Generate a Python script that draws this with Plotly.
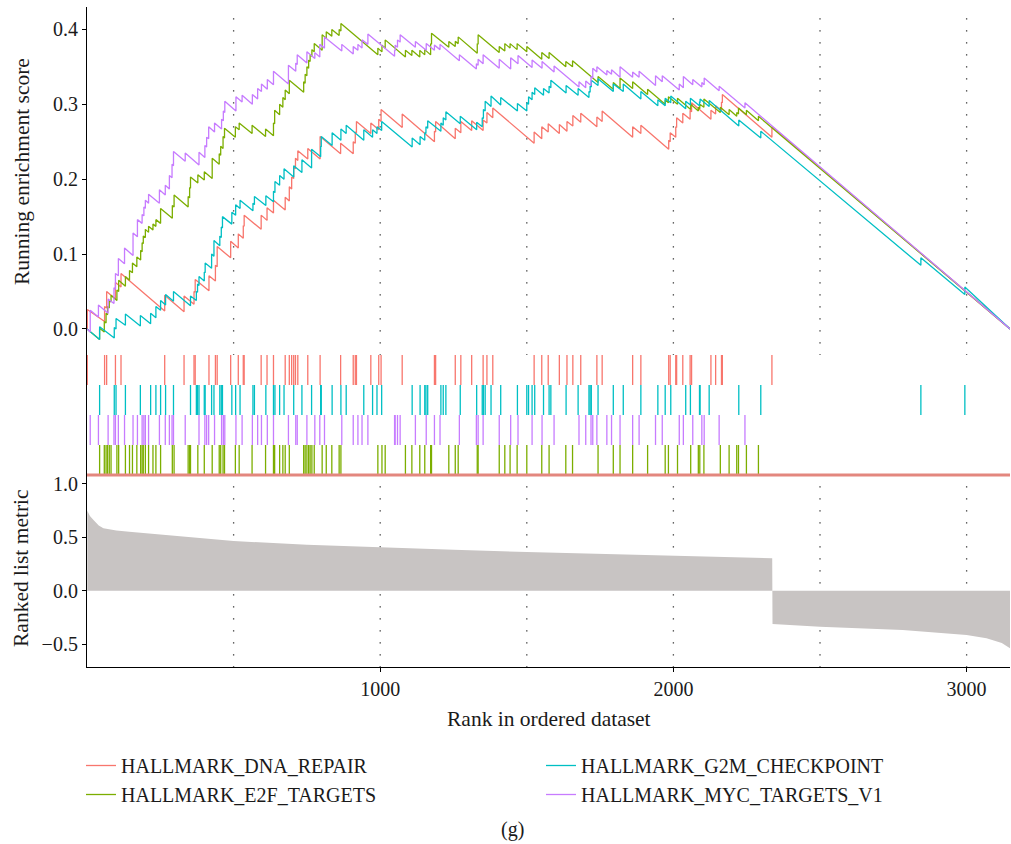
import plotly.graph_objects as go

# ---------------------------------------------------------------------------
# Data
# ---------------------------------------------------------------------------
N_GENES = 3148

# Running enrichment score: each hit is (rank, score before hit, score after hit)
dna_repair_steps = [
    (1, 0.000, 0.026), (60, 0.010, 0.030), (67, 0.028, 0.050), (97, 0.040, 0.062),
    (116, 0.056, 0.074), (265, 0.024, 0.045), (331, 0.023, 0.044), (365, 0.033, 0.050),
    (369, 0.049, 0.066), (416, 0.051, 0.071), (438, 0.064, 0.085), (444, 0.083, 0.110),
    (490, 0.095, 0.117), (516, 0.108, 0.127), (533, 0.121, 0.138), (536, 0.137, 0.152),
    (594, 0.133, 0.152), (614, 0.145, 0.162), (636, 0.155, 0.172), (676, 0.159, 0.176),
    (690, 0.171, 0.190), (698, 0.187, 0.203), (705, 0.201, 0.216), (711, 0.214, 0.228),
    (719, 0.225, 0.238), (753, 0.227, 0.241), (795, 0.227, 0.257), (865, 0.234, 0.248),
    (908, 0.234, 0.250), (915, 0.248, 0.263), (919, 0.262, 0.277), (968, 0.261, 0.275),
    (995, 0.266, 0.280), (1003, 0.277, 0.293), (1075, 0.269, 0.287), (1185, 0.250, 0.264),
    (1189, 0.263, 0.277), (1256, 0.254, 0.268), (1275, 0.262, 0.277), (1312, 0.265, 0.278),
    (1351, 0.265, 0.279), (1364, 0.275, 0.289), (1384, 0.282, 0.295), (1525, 0.248, 0.263),
    (1551, 0.254, 0.270), (1573, 0.263, 0.274), (1611, 0.261, 0.273), (1637, 0.264, 0.277),
    (1657, 0.271, 0.285), (1684, 0.276, 0.288), (1739, 0.270, 0.283), (1757, 0.277, 0.291),
    (1861, 0.256, 0.270), (1889, 0.261, 0.272), (1984, 0.240, 0.252), (1989, 0.250, 0.262),
    (2008, 0.256, 0.270), (2011, 0.269, 0.282), (2032, 0.275, 0.288), (2057, 0.280, 0.292),
    (2062, 0.290, 0.302), (2128, 0.280, 0.292), (2144, 0.287, 0.298), (2164, 0.291, 0.303),
    (2167, 0.302, 0.313), (2336, 0.256, 0.270),
]

e2f_targets_steps = [
    (43, -0.014, 0.001), (59, -0.004, 0.010), (65, 0.008, 0.021), (70, 0.019, 0.030),
    (76, 0.028, 0.038), (82, 0.036, 0.045), (102, 0.038, 0.052), (108, 0.050, 0.065),
    (131, 0.057, 0.070), (145, 0.065, 0.078), (155, 0.075, 0.088), (170, 0.083, 0.096),
    (183, 0.092, 0.105), (188, 0.103, 0.115), (192, 0.114, 0.124), (199, 0.122, 0.133),
    (210, 0.129, 0.137), (225, 0.132, 0.140), (235, 0.137, 0.146), (251, 0.141, 0.161),
    (291, 0.148, 0.165), (297, 0.163, 0.179), (345, 0.163, 0.177), (350, 0.175, 0.189),
    (353, 0.188, 0.203), (378, 0.195, 0.206), (400, 0.199, 0.210), (427, 0.201, 0.228),
    (451, 0.220, 0.234), (456, 0.232, 0.244), (464, 0.241, 0.257), (469, 0.255, 0.268),
    (506, 0.256, 0.270), (519, 0.266, 0.275), (563, 0.261, 0.272), (609, 0.257, 0.267),
    (636, 0.258, 0.275), (640, 0.274, 0.292), (657, 0.286, 0.300), (668, 0.296, 0.309),
    (676, 0.306, 0.319), (690, 0.314, 0.332), (739, 0.316, 0.330), (744, 0.328, 0.340),
    (750, 0.338, 0.350), (756, 0.348, 0.359), (761, 0.357, 0.366), (767, 0.364, 0.373),
    (775, 0.370, 0.381), (802, 0.372, 0.393), (816, 0.388, 0.397), (835, 0.391, 0.400),
    (860, 0.392, 0.400), (866, 0.398, 0.408), (992, 0.366, 0.375), (1006, 0.370, 0.379),
    (1017, 0.375, 0.386), (1086, 0.363, 0.372), (1108, 0.365, 0.372), (1135, 0.363, 0.372),
    (1152, 0.366, 0.373), (1172, 0.366, 0.381), (1175, 0.380, 0.395), (1234, 0.376, 0.384),
    (1256, 0.377, 0.384), (1266, 0.381, 0.390), (1331, 0.368, 0.381), (1334, 0.380, 0.393),
    (1406, 0.369, 0.377), (1425, 0.371, 0.381), (1443, 0.375, 0.381), (1467, 0.373, 0.381),
    (1500, 0.370, 0.377), (1551, 0.360, 0.369), (1576, 0.361, 0.369), (1633, 0.350, 0.357),
    (1656, 0.350, 0.358), (1743, 0.329, 0.337), (1795, 0.320, 0.329), (1818, 0.321, 0.335),
    (1861, 0.321, 0.330), (1912, 0.313, 0.320), (1972, 0.300, 0.306), (1983, 0.302, 0.310),
    (2014, 0.300, 0.308), (2059, 0.293, 0.300), (2085, 0.291, 0.296), (2090, 0.294, 0.300),
    (2104, 0.296, 0.307), (2160, 0.289, 0.296), (2190, 0.286, 0.293), (2216, 0.284, 0.289),
    (2222, 0.287, 0.295), (2249, 0.286, 0.292), (2290, 0.278, 0.284),
]

g2m_checkpoint_steps = [
    (43, -0.014, 0.003), (93, -0.012, 0.002), (99, 0.000, 0.014), (131, 0.005, 0.020),
    (182, 0.004, 0.018), (217, 0.007, 0.021), (235, 0.015, 0.030), (251, 0.025, 0.038),
    (268, 0.032, 0.046), (295, 0.037, 0.050), (353, 0.031, 0.044), (373, 0.038, 0.050),
    (377, 0.049, 0.060), (382, 0.058, 0.070), (400, 0.064, 0.076), (403, 0.075, 0.088),
    (425, 0.081, 0.100), (433, 0.097, 0.118), (453, 0.111, 0.124), (458, 0.122, 0.136),
    (462, 0.135, 0.150), (494, 0.140, 0.156), (507, 0.152, 0.166), (522, 0.161, 0.172),
    (566, 0.158, 0.168), (571, 0.166, 0.177), (610, 0.165, 0.178), (636, 0.170, 0.184),
    (641, 0.182, 0.197), (657, 0.192, 0.205), (672, 0.200, 0.214), (705, 0.203, 0.218),
    (733, 0.209, 0.226), (766, 0.215, 0.240), (797, 0.230, 0.244), (799, 0.243, 0.257),
    (836, 0.245, 0.262), (866, 0.252, 0.267), (884, 0.261, 0.272), (944, 0.252, 0.266),
    (974, 0.256, 0.266), (989, 0.261, 0.270), (1005, 0.265, 0.277), (1109, 0.243, 0.255),
    (1136, 0.246, 0.257), (1152, 0.252, 0.262), (1156, 0.261, 0.270), (1162, 0.268, 0.278),
    (1207, 0.264, 0.275), (1215, 0.272, 0.282), (1224, 0.279, 0.290), (1273, 0.274, 0.284),
    (1329, 0.266, 0.276), (1348, 0.270, 0.282), (1352, 0.281, 0.293), (1358, 0.291, 0.304),
    (1378, 0.297, 0.311), (1411, 0.299, 0.309), (1468, 0.291, 0.301), (1500, 0.291, 0.302),
    (1506, 0.300, 0.310), (1518, 0.306, 0.316), (1527, 0.313, 0.322), (1557, 0.312, 0.321),
    (1576, 0.315, 0.324), (1582, 0.322, 0.332), (1634, 0.315, 0.325), (1675, 0.312, 0.321),
    (1712, 0.309, 0.317), (1716, 0.316, 0.324), (1720, 0.323, 0.332), (1743, 0.325, 0.334),
    (1795, 0.317, 0.327), (1829, 0.317, 0.327), (1889, 0.307, 0.317), (1947, 0.298, 0.306),
    (1972, 0.298, 0.308), (1991, 0.302, 0.311), (2042, 0.294, 0.304), (2058, 0.299, 0.308),
    (2089, 0.298, 0.303), (2091, 0.303, 0.307), (2122, 0.297, 0.305), (2223, 0.271, 0.279),
    (2298, 0.255, 0.264), (2844, 0.085, 0.095), (2994, 0.046, 0.056),
]

myc_targets_v1_steps = [
    (11, -0.004, 0.025), (39, 0.016, 0.032), (72, 0.021, 0.040), (92, 0.034, 0.055),
    (97, 0.053, 0.074), (107, 0.071, 0.094), (128, 0.087, 0.108), (157, 0.098, 0.128),
    (172, 0.123, 0.146), (188, 0.141, 0.153), (194, 0.151, 0.163), (199, 0.161, 0.172),
    (210, 0.168, 0.180), (247, 0.168, 0.186), (267, 0.179, 0.192), (281, 0.187, 0.205),
    (290, 0.202, 0.220), (295, 0.218, 0.237), (335, 0.224, 0.235), (382, 0.219, 0.236),
    (402, 0.229, 0.245), (408, 0.243, 0.256), (415, 0.254, 0.270), (435, 0.263, 0.275),
    (459, 0.267, 0.280), (465, 0.278, 0.291), (470, 0.289, 0.304), (508, 0.291, 0.310),
    (529, 0.303, 0.312), (564, 0.300, 0.313), (582, 0.307, 0.321), (595, 0.317, 0.327),
    (615, 0.320, 0.333), (636, 0.326, 0.344), (687, 0.327, 0.352), (712, 0.344, 0.355),
    (717, 0.353, 0.366), (750, 0.355, 0.370), (777, 0.361, 0.369), (794, 0.363, 0.380),
    (810, 0.375, 0.390), (869, 0.371, 0.380), (908, 0.367, 0.377), (924, 0.372, 0.380),
    (938, 0.375, 0.386), (958, 0.380, 0.394), (1049, 0.364, 0.372), (1051, 0.371, 0.379),
    (1059, 0.376, 0.386), (1068, 0.383, 0.393), (1120, 0.376, 0.384), (1157, 0.372, 0.381),
    (1185, 0.372, 0.379), (1204, 0.373, 0.380), (1270, 0.358, 0.366), (1328, 0.347, 0.354),
    (1334, 0.352, 0.360), (1351, 0.354, 0.366), (1406, 0.348, 0.360), (1445, 0.347, 0.362),
    (1470, 0.354, 0.365), (1518, 0.349, 0.359), (1552, 0.348, 0.357), (1593, 0.343, 0.351),
    (1678, 0.323, 0.330), (1701, 0.322, 0.331), (1719, 0.325, 0.337), (1725, 0.335, 0.348),
    (1739, 0.343, 0.350), (1773, 0.339, 0.345), (1789, 0.340, 0.346), (1818, 0.336, 0.350),
    (1861, 0.336, 0.343), (1883, 0.336, 0.344), (1939, 0.325, 0.338), (1962, 0.330, 0.338),
    (2020, 0.319, 0.327), (2034, 0.322, 0.337), (2066, 0.326, 0.333), (2097, 0.323, 0.329),
    (2105, 0.326, 0.335), (2156, 0.318, 0.324), (2244, 0.295, 0.302),
]

# Ranked list metric (rank, value)
metric_rank = [1, 10, 23, 40, 56, 100, 144, 254, 364, 500, 750, 1000, 1250, 1500,
               1750, 2000, 2200, 2337, 2338, 2500, 2782, 2900, 3000, 3068, 3120, 3148]
metric_value = [0.75, 0.70, 0.66, 0.61, 0.585, 0.565, 0.553, 0.528, 0.50, 0.466, 0.43,
                0.403, 0.383, 0.363, 0.345, 0.325, 0.315, 0.304, -0.312, -0.337, -0.368,
                -0.39, -0.415, -0.446, -0.49, -0.54]

gene_sets = [
    # name, steps, colour, hit row (bottom = 0), legend rank
    ("HALLMARK_DNA_REPAIR", dna_repair_steps, "#F8766D", 3, 1),
    ("HALLMARK_E2F_TARGETS", e2f_targets_steps, "#7CAE00", 0, 3),
    ("HALLMARK_G2M_CHECKPOINT", g2m_checkpoint_steps, "#00BFC4", 2, 2),
    ("HALLMARK_MYC_TARGETS_V1", myc_targets_v1_steps, "#C77CFF", 1, 4),
]

x_ticks = [1000, 2000, 3000]
guide_ranks = [500, 1000, 1500, 2000, 2500, 3000]

# ---------------------------------------------------------------------------
# Figure
# ---------------------------------------------------------------------------
W, H = 1011, 844
ML, MR, MT, MB = 87, 1, 7, 177
PW = W - ML - MR
PH = H - MT - MB


def py2paper(py):
    """pixel row -> paper fraction of the plotting area"""
    return (H - MB - py) / PH


def px2paper(px):
    """pixel column -> paper fraction of the plotting area"""
    return (px - ML) / PW


FONT = "Liberation Serif"
TXT = "#1a1a1a"

fig = go.Figure()

# ranked list metric
fig.add_trace(go.Scatter(
    x=metric_rank, y=metric_value, mode="lines", fill="tozeroy",
    fillcolor="#C8C4C3", line=dict(width=0, color="#C8C4C3"),
    xaxis="x", yaxis="y3", showlegend=False, hoverinfo="skip"))

# hit ticks
for name, steps, colour, row, _ in gene_sets:
    tx, ty = [], []
    for r, _b, _a in steps:
        tx += [r, r, None]
        ty += [row, row + 1, None]
    fig.add_trace(go.Scatter(
        x=tx, y=ty, mode="lines", line=dict(color=colour, width=1.3),
        xaxis="x", yaxis="y2", showlegend=False, hoverinfo="skip"))

# running enrichment score curves
for name, steps, colour, row, lrank in gene_sets:
    xs, ys = [0], [0.0]
    for r, b, a in steps:
        xs += [r, r]
        ys += [b, a]
    xs.append(N_GENES)
    ys.append(0.0)
    fig.add_trace(go.Scatter(
        x=xs, y=ys, mode="lines", name=name, legendrank=lrank,
        line=dict(color=colour, width=1.3),
        xaxis="x", yaxis="y"))

# dotted guides at every 500 ranks
shapes = []
for g in guide_ranks:
    for top, bot in ((18.3, 355), (486.3, 667)):
        shapes.append(dict(
            type="line", xref="x", yref="paper", x0=g, x1=g,
            y0=py2paper(top), y1=py2paper(bot), layer="below",
            line=dict(color="#333333", width=1.3, dash="1.3px,10.7px")))
# separator under the hit ticks
shapes.append(dict(
    type="line", xref="paper", yref="paper", x0=0, x1=1,
    y0=py2paper(475), y1=py2paper(475),
    line=dict(color="#E3877E", width=3)))

axis_common = dict(
    showline=True, linecolor="black", linewidth=1.2, showgrid=False,
    zeroline=False, ticks="outside", ticklen=4, tickwidth=1, tickcolor="black",
    tickfont=dict(family=FONT, size=20, color=TXT))

top_dom = [py2paper(345), 1.0]
hit_dom = [py2paper(475), py2paper(345)]
bot_dom = [0.0, py2paper(475)]

TITLE_SIZE = 21.5

fig.update_layout(
    width=W, height=H,
    margin=dict(l=ML, r=MR, t=MT, b=MB),
    paper_bgcolor="white", plot_bgcolor="white",
    font=dict(family=FONT, color=TXT),
    xaxis=dict(axis_common, domain=[0, 1], range=[0, N_GENES], anchor="y3",
               tickvals=x_ticks, ticktext=[str(v) for v in x_ticks]),
    yaxis=dict(axis_common, domain=top_dom, range=[-0.0214, 0.4299], anchor="x",
               tickvals=[0.0, 0.1, 0.2, 0.3, 0.4],
               ticktext=["0.0", "0.1", "0.2", "0.3", "0.4"]),
    yaxis2=dict(domain=hit_dom, range=[0, 130 / 30], anchor="x", showline=True,
                linecolor="black", linewidth=1.2, showgrid=False, zeroline=False,
                showticklabels=False, ticks=""),
    yaxis3=dict(axis_common, domain=bot_dom, range=[-0.715, 1.084], anchor="x",
                tickvals=[-0.5, 0.0, 0.5, 1.0],
                ticktext=["\u22120.5", "0.0", "0.5", "1.0"]),
    shapes=shapes,
    showlegend=True,
    legend=dict(orientation="h", x=px2paper(81), xanchor="left",
                y=py2paper(746), yanchor="top",
                entrywidth=415, traceorder="normal",
                font=dict(family=FONT, size=20, color=TXT),
                bgcolor="rgba(0,0,0,0)"),
    annotations=[
        dict(text="Running enrichment score", xref="paper", yref="paper",
             x=px2paper(22), y=py2paper(172), textangle=-90,
             showarrow=False, xanchor="center", yanchor="middle",
             font=dict(family=FONT, size=TITLE_SIZE, color=TXT)),
        dict(text="Ranked list metric", xref="paper", yref="paper",
             x=px2paper(21), y=py2paper(568), textangle=-90,
             showarrow=False, xanchor="center", yanchor="middle",
             font=dict(family=FONT, size=TITLE_SIZE, color=TXT)),
        dict(text="Rank in ordered dataset", xref="paper", yref="paper",
             x=0.5, y=py2paper(719), showarrow=False,
             xanchor="center", yanchor="middle",
             font=dict(family=FONT, size=TITLE_SIZE, color=TXT)),
        dict(text="(g)", xref="paper", yref="paper",
             x=px2paper(512), y=py2paper(829), showarrow=False,
             xanchor="center", yanchor="middle",
             font=dict(family=FONT, size=20, color=TXT)),
    ],
)

fig.write_html("out.html")
